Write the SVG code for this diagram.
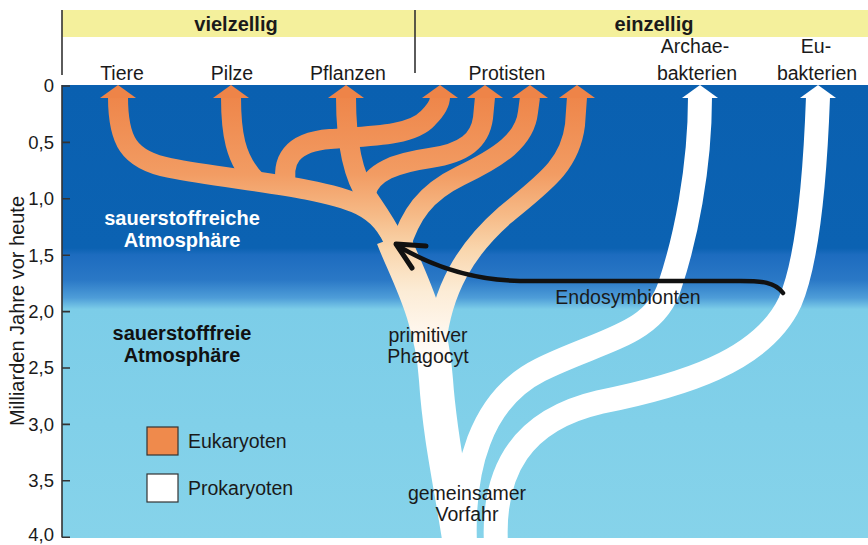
<svg xmlns="http://www.w3.org/2000/svg" width="868" height="545" viewBox="0 0 868 545">
<defs>
<linearGradient id="bg" gradientUnits="userSpaceOnUse" x1="0" y1="85" x2="0" y2="538">
<stop offset="0" stop-color="#0a60b0"/>
<stop offset="0.36" stop-color="#0b62b2"/>
<stop offset="0.375" stop-color="#1d6cbf"/>
<stop offset="0.43" stop-color="#2a78c6"/>
<stop offset="0.47" stop-color="#4e9dd8"/>
<stop offset="0.495" stop-color="#7ccde8"/>
<stop offset="1" stop-color="#86d3ea"/>
</linearGradient>
<linearGradient id="eu" gradientUnits="userSpaceOnUse" x1="0" y1="90" x2="0" y2="370">
<stop offset="0" stop-color="#ee8448"/>
<stop offset="0.3" stop-color="#f29c63"/>
<stop offset="0.45" stop-color="#f6bb88"/>
<stop offset="0.57" stop-color="#f9d6ad"/>
<stop offset="0.72" stop-color="#fcecd6"/>
<stop offset="0.88" stop-color="#fff8f0"/>
<stop offset="1" stop-color="#ffffff"/>
</linearGradient>
</defs>
<style>
text{font-family:"Liberation Sans",Arial,sans-serif;fill:#1a1a1a}
.lab{font-size:19.5px;text-anchor:middle}
.tick{font-size:18.5px;text-anchor:end}
.hb{font-size:20px;font-weight:bold;text-anchor:middle}
.eb{fill:none;stroke:url(#eu);stroke-width:20}
.pb{fill:none;stroke:#ffffff;stroke-width:24}
.oh{fill:#ee8448}
.wh{fill:#ffffff}
.ax{stroke:#333;stroke-width:1.6;fill:none}
</style>
<rect width="868" height="545" fill="#ffffff"/>
<g id="header">
<rect x="62" y="10" width="806" height="27" fill="#f4f09c"/>
<line class="ax" x1="62" y1="10" x2="62" y2="75"/>
<line class="ax" x1="415" y1="10" x2="415" y2="73"/>
<text class="hb" x="236" y="31">vielzellig</text>
<text class="hb" x="654" y="31">einzellig</text>
<text class="lab" x="122" y="80">Tiere</text>
<text class="lab" x="232" y="80">Pilze</text>
<text class="lab" x="348" y="80">Pflanzen</text>
<text class="lab" x="507" y="80">Protisten</text>
<text class="lab" x="695" y="53">Archae-</text>
<text class="lab" x="697" y="80">bakterien</text>
<text class="lab" x="816" y="53">Eu-</text>
<text class="lab" x="817" y="80">bakterien</text>
</g>
<g id="plot">
<rect x="62" y="85" width="806" height="453" fill="url(#bg)"/>
</g>
<g id="axis">
<path class="ax" d="M62 85 V537.5 M62 86 H70 M62 142.4 H70 M62 198.8 H70 M62 255.2 H70 M62 311.6 H70 M62 368 H70 M62 424.4 H70 M62 480.8 H70 M62 537.2 H70"/>
<text class="tick" x="54" y="92">0</text>
<text class="tick" x="54" y="149">0,5</text>
<text class="tick" x="54" y="205">1,0</text>
<text class="tick" x="54" y="262">1,5</text>
<text class="tick" x="54" y="318">2,0</text>
<text class="tick" x="54" y="374">2,5</text>
<text class="tick" x="54" y="431">3,0</text>
<text class="tick" x="54" y="487">3,5</text>
<text class="tick" x="54" y="541" font-size="18">4,0</text>
<text transform="translate(24 311) rotate(-90)" font-size="20" text-anchor="middle">Milliarden Jahre vor heute</text>
</g>
<g id="prokaryoten">
<g id="archaebakterien">
<path class="pb" d="M465 545 C462 470 480 400 540 370 C600 340 655 335 670 285 C685 240 700 170 700 97"/>
<polygon class="wh" points="682,98 700,85 718,98"/>
</g>
<g id="eubakterien">
<path class="pb" d="M496 545 C492 470 522 420 600 402 C680 386 762 362 790 302 C808 260 815 180 818 97"/>
<polygon class="wh" points="800,98 818,85 836,98"/>
</g>
</g>
<g id="eukaryoten">
<path id="stamm" fill="none" stroke="url(#eu)" stroke-width="34" d="M393 238 C405 270 432 315 436 380 C440 440 452 490 460 545"/>
<g id="tiere"><path class="eb" d="M118 97 C118 140 128 160 170 168 C230 180 320 186 360 205 C378 214 388 226 396 246"/><polygon class="oh" points="100,98 118,85 136,98"/></g>
<g id="pilze"><path class="eb" d="M231 97 C231 130 234 160 258 183"/><polygon class="oh" points="213,98 231,85 249,98"/></g>
<g id="pflanzen"><path class="eb" d="M346 97 C346 140 352 175 368 198 C376 210 385 222 395 242"/><polygon class="oh" points="328,98 346,85 364,98"/></g>
<g id="protist1"><path class="eb" d="M287 189 C280 160 292 142 330 139 C370 136 412 136 428 118 C436 110 440 104 440 97"/><polygon class="oh" points="422,98 440,85 458,98"/></g>
<g id="protist2"><path class="eb" d="M366 192 C372 172 395 163 430 158 C465 153 480 140 483 118 L485 97"/><polygon class="oh" points="467,98 485,85 503,98"/></g>
<g id="protist3"><path class="eb" d="M400 248 C410 215 425 193 460 176 C500 157 525 140 528 112 L530 97"/><polygon class="oh" points="512,98 530,85 548,98"/></g>
<g id="protist4"><path class="eb" d="M436 345 C442 290 465 250 505 215 C545 182 570 165 575 125 L577 97"/><polygon class="oh" points="559,98 577,85 595,98"/></g>
</g>
<g id="connectors">
<path fill="none" stroke="#111" stroke-width="4.5" stroke-linecap="round" d="M783 293 C775 282 762 281 740 281 L520 281 C470 280 430 265 398 246"/>
<path fill="none" stroke="#111" stroke-width="5" stroke-linecap="round" stroke-linejoin="round" d="M426 246 L396 244 L412 268"/>
</g>
<g id="texte">
<text class="hb" x="182" y="225" style="fill:#ffffff">sauerstoffreiche</text>
<text class="hb" x="182" y="247" style="fill:#ffffff">Atmosphäre</text>
<text class="hb" x="182" y="340" style="fill:#111">sauerstofffreie</text>
<text class="hb" x="182" y="362" style="fill:#111">Atmosphäre</text>
<text class="lab" x="628" y="304">Endosymbionten</text>
<text class="lab" x="428" y="342">primitiver</text>
<text class="lab" x="428" y="363">Phagocyt</text>
<text class="lab" x="467" y="500">gemeinsamer</text>
<text class="lab" x="467" y="521">Vorfahr</text>
</g>
<g id="legende">
<rect x="147" y="427" width="31" height="28" fill="#ef8a4c" stroke="#333" stroke-width="1.2"/>
<text x="188" y="448" font-size="19.5">Eukaryoten</text>
<rect x="147" y="474" width="31" height="28" fill="#ffffff" stroke="#333" stroke-width="1.2"/>
<text x="188" y="495" font-size="19.5">Prokaryoten</text>
</g>
</svg>
